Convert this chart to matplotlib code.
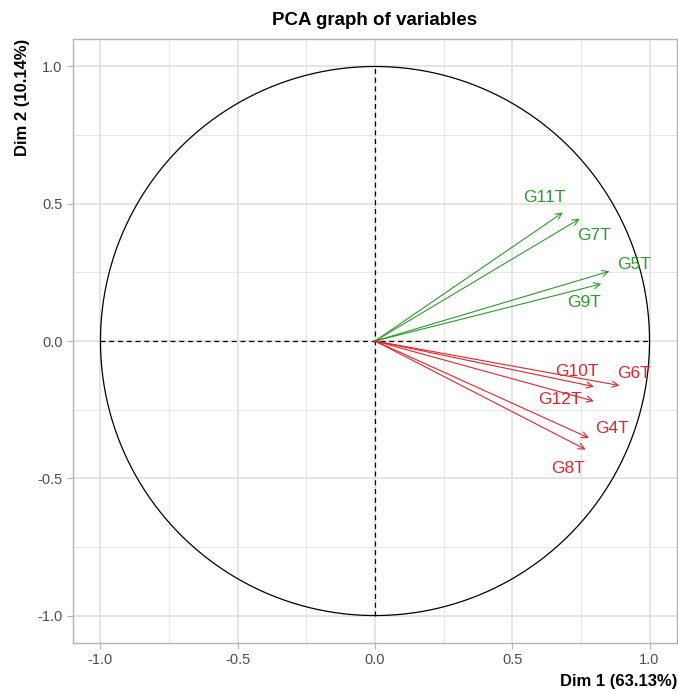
import numpy as np
import matplotlib
matplotlib.use("Agg")
import matplotlib.pyplot as plt

plt.rcParams['font.family'] = ['Liberation Sans', 'DejaVu Sans']

# variable coordinates on Dim 1 / Dim 2
variables = ['G11T', 'G7T', 'G5T', 'G9T', 'G6T', 'G10T', 'G12T', 'G4T', 'G8T']
dim1 = [0.684, 0.745, 0.854, 0.824, 0.890, 0.797, 0.797, 0.779, 0.767]
dim2 = [0.468, 0.445, 0.254, 0.208, -0.162, -0.166, -0.219, -0.353, -0.395]
group = ['g', 'g', 'g', 'g', 'r', 'r', 'r', 'r', 'r']

# label offsets from arrow tips (repel-like placement)
label_dx = [-0.069, 0.052, 0.089, -0.063, 0.053, -0.060, -0.125, 0.085, -0.064]
label_dy = [0.056, -0.061, 0.024, -0.069, 0.045, 0.055, 0.006, 0.035, -0.071]

colors = {'g': '#2E9A2E', 'r': '#E3262D'}

fig = plt.figure(figsize=(6.78, 6.92), dpi=100)
ax = fig.add_axes([0.1077, 0.0708, 0.8908, 0.8728])

ax.set_xlim(-1.1, 1.1)
ax.set_ylim(-1.1, 1.1)

ticks = [-1.0, -0.5, 0.0, 0.5, 1.0]
ax.set_xticks(ticks)
ax.set_yticks(ticks)
ax.set_xticklabels(['-1.0', '-0.5', '0.0', '0.5', '1.0'])
ax.set_yticklabels(['-1.0', '-0.5', '0.0', '0.5', '1.0'])
ax.set_xticks([-0.75, -0.25, 0.25, 0.75], minor=True)
ax.set_yticks([-0.75, -0.25, 0.25, 0.75], minor=True)
ax.grid(which='major', color='#DEDEDE', lw=1.1)
ax.grid(which='minor', color='#E6E6E6', lw=0.7)
ax.set_axisbelow(True)
ax.tick_params(which='major', length=4, color='#B3B3B3', width=0.8,
               labelcolor='#4D4D4D', labelsize=10.5)
ax.tick_params(which='minor', length=0)
for s in ax.spines.values():
    s.set_color('#B3B3B3')
    s.set_linewidth(1.0)

# correlation circle
t = np.linspace(0, 2 * np.pi, 400)
ax.plot(np.cos(t), np.sin(t), color='black', lw=0.9)
ax.plot([-1, 1], [0, 0], color='black', lw=0.9, ls=(0, (4, 3)))
ax.plot([0, 0], [-1, 1], color='black', lw=0.9, ls=(0, (4, 3)))

for name, x, y, g, dx, dy in zip(variables, dim1, dim2, group, label_dx, label_dy):
    c = colors[g]
    ax.annotate('', xy=(x, y), xytext=(0, 0),
                arrowprops=dict(arrowstyle='->', color=c, lw=0.8,
                                shrinkA=0, shrinkB=0, mutation_scale=11))
    ax.text(x + dx, y + dy, name, color=c, fontsize=12.5,
            ha='center', va='center')

ax.set_title('PCA graph of variables', fontsize=13.5, fontweight='bold', pad=10)
ax.text(1.0, -0.052, 'Dim 1 (63.13%)', transform=ax.transAxes, ha='right',
        va='top', fontsize=12, fontweight='bold')
ax.text(-0.0844, 1.0, 'Dim 2 (10.14%)', transform=ax.transAxes, ha='center',
        va='top', rotation=90, fontsize=12, fontweight='bold')

fig.savefig('out.png', dpi=100)
